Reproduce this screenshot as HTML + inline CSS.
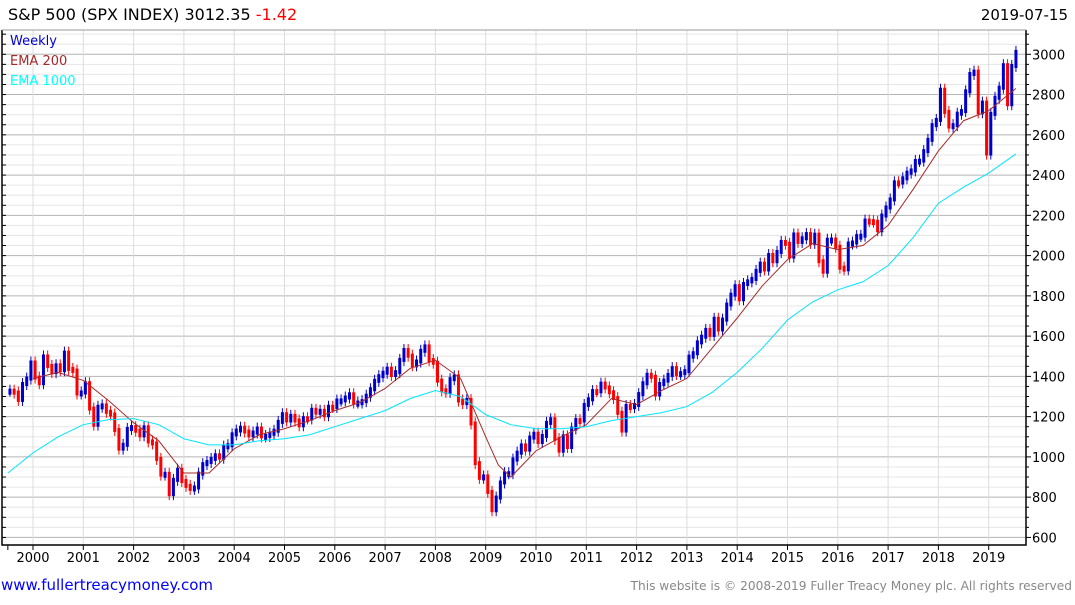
<!DOCTYPE html>
<html><head><meta charset="utf-8"><style>
body{margin:0;background:#fff;width:1075px;height:600px;overflow:hidden;font-family:"Liberation Sans","DejaVu Sans",sans-serif}
</style></head><body>
<svg id="chart" width="1075" height="600" xmlns="http://www.w3.org/2000/svg" font-family="DejaVu Sans, Liberation Sans, sans-serif">
<text x="8" y="20" font-size="16" fill="#000">S&amp;P 500 (SPX INDEX) 3012.35 <tspan fill="#ff0000">-1.42</tspan></text>
<text x="1068" y="20" font-size="15" fill="#000" text-anchor="end">2019-07-15</text>
<g id="grid"></g><g id="bars"></g><g id="lines"></g><g id="axes"></g>
<text x="10" y="45" font-size="13" fill="#0000cc">Weekly</text>
<text x="10" y="65" font-size="13" fill="#a52a2a">EMA 200</text>
<text x="10" y="85" font-size="13" fill="#00ffff">EMA 1000</text>
<text x="1" y="590" font-size="15" fill="#0000ff">www.fullertreacymoney.com</text>
<text x="1072" y="590" font-size="12.2" fill="#888" text-anchor="end">This website is © 2008-2019 Fuller Treacy Money plc. All rights reserved</text>
</svg>
<script>
const startYear = 1999.5;
const monthlyClose = [1329,1320,1283,1362,1389,1469,
1394,1366,1499,1452,1421,1455,1431,1518,1437,1429,1315,1320,
1366,1240,1160,1249,1256,1224,1211,1134,1041,1060,1139,1148,
1130,1107,1147,1077,1067,990,912,916,815,886,936,880,
856,841,848,917,964,975,990,1008,996,1051,1058,1112,
1131,1145,1126,1107,1121,1141,1102,1104,1115,1130,1174,1212,
1181,1204,1181,1157,1192,1191,1234,1220,1229,1207,1249,1248,
1280,1281,1295,1311,1270,1270,1277,1304,1336,1378,1401,1418,
1438,1407,1421,1482,1531,1503,1455,1474,1527,1549,1481,1468,
1379,1331,1323,1386,1400,1280,1267,1283,1166,969,896,903,
826,735,798,873,919,919,987,1021,1057,1036,1096,1115,
1074,1104,1169,1187,1089,1031,1102,1049,1141,1183,1181,1258,
1286,1327,1326,1364,1345,1321,1292,1219,1131,1253,1247,1258,
1312,1366,1408,1398,1310,1362,1379,1407,1441,1412,1416,1426,
1498,1515,1569,1597,1631,1606,1686,1633,1682,1757,1806,1848,
1783,1859,1872,1884,1924,1960,1931,2003,1972,2018,2068,2059,
1995,2105,2068,2086,2107,2063,2104,1972,1920,2079,2080,2044,
1940,1932,2060,2065,2097,2099,2174,2171,2168,2126,2199,2239,
2279,2364,2363,2384,2412,2423,2470,2472,2519,2575,2648,2674,
2824,2714,2641,2648,2705,2718,2816,2902,2914,2712,2760,2507,
2704,2784,2834,2946,2752,2942,3012];
const emaYears = [2000,2000.5,2001,2001.5,2002,2002.5,2003,2003.5,2004,2004.5,2005,2005.5,2006,2006.5,2007,2007.5,2008,2008.5,2009,2009.25,2009.5,2010,2010.5,2011,2011.5,2012,2012.5,2013,2013.5,2014,2014.5,2015,2015.5,2016,2016.5,2017,2017.5,2018,2018.5,2019,2019.54];
const ema200 = [1390,1420,1380,1280,1170,1080,920,920,1040,1110,1140,1180,1230,1270,1340,1440,1480,1390,1100,960,900,1030,1100,1160,1290,1260,1330,1390,1540,1690,1850,1980,2060,2030,2050,2150,2330,2520,2670,2720,2830];
const ema1000Years = [1999.5,2000,2000.5,2001,2001.5,2002,2002.5,2003,2003.5,2004,2004.5,2005,2005.5,2006,2006.5,2007,2007.5,2008,2008.5,2009,2009.5,2010,2010.5,2011,2011.5,2012,2012.5,2013,2013.5,2014,2014.5,2015,2015.5,2016,2016.5,2017,2017.5,2018,2018.5,2019,2019.54];
const ema1000 = [920,1020,1100,1160,1185,1190,1160,1090,1060,1060,1080,1090,1110,1150,1190,1230,1290,1330,1300,1210,1160,1140,1140,1150,1180,1200,1220,1250,1320,1420,1540,1680,1770,1830,1870,1950,2090,2260,2340,2410,2505];
const yTicks = [600,800,1000,1200,1400,1600,1800,2000,2200,2400,2600,2800,3000];
const xYears = [2000,2001,2002,2003,2004,2005,2006,2007,2008,2009,2010,2011,2012,2013,2014,2015,2016,2017,2018,2019];

const NS="http://www.w3.org/2000/svg";
const PL=2,PR=1026,PT=30,PB=545;
const xs=t=>33+(t-2000)*50.3;
const ys=v=>54.3+(3000-v)*0.2013;
function mk(tag,attrs,parent){const e=document.createElementNS(NS,tag);for(const k in attrs)e.setAttribute(k,attrs[k]);document.getElementById(parent).appendChild(e);return e;}
for(let v=600;v<=3100;v+=50){
  if(ys(v)<PT||ys(v)>PB)continue;
  const g=mk('line',{x1:PL,x2:PR,y1:ys(v),y2:ys(v),stroke:v%200===0?'#b4b4b4':'#e6e6e6','stroke-width':1},'grid');
  
  
}
xYears.forEach(yr=>{
  const g=mk('line',{x1:xs(yr),x2:xs(yr),y1:PT,y2:PB,stroke:'#dcdcdc','stroke-width':1},'grid');
  
  
});
for(let i=0;i<monthlyClose.length;i++){
  const c=monthlyClose[i], o=i>0?monthlyClose[i-1]:c;
  const t=startYear+i/12+1/24;
  const hi=Math.max(o,c), lo=Math.min(o,c);
  const col=c>=o?'#0000cc':'#ff0000';
  const w=mk('line',{x1:xs(t),x2:xs(t),y1:ys(hi)-6,y2:ys(lo)+6,stroke:col,'stroke-width':1},'bars');
  
  
  const b=mk('rect',{x:xs(t)-1.5,y:ys(hi)-2,width:3,height:Math.max(2,ys(lo)-ys(hi))+4,fill:col},'bars');
  
  
}
const p1=mk('polyline',{points:emaYears.map((t,i)=>xs(t)+','+ys(ema200[i])).join(' '),fill:'none',stroke:'#a52a2a','stroke-width':1},'lines');


const p2=mk('polyline',{points:ema1000Years.map((t,i)=>xs(t)+','+ys(ema1000[i])).join(' '),fill:'none',stroke:'#00e5ff','stroke-width':1},'lines');


const frame=mk('polyline',{points:`${PL},${PT} ${PL},${PB} ${PR},${PB} ${PR},${PT}`,fill:'none',stroke:'#000','stroke-width':1.5},'axes');


const topBorder=mk('line',{x1:PL,x2:PR,y1:PT,y2:PT,stroke:'#999'},'axes');


yTicks.forEach(v=>{
  mk('line',{x1:PR,x2:PR+5,y1:ys(v),y2:ys(v),stroke:'#000'},'axes');
  const t=mk('text',{x:PR+6,y:ys(v)+5,'font-size':13,fill:'#000'},'axes');
  t.textContent=v;
  
  
});
for(let v=650;v<=3100;v+=50){if(ys(v)>PT&&v%200)mk('line',{x1:PR,x2:PR+3,y1:ys(v),y2:ys(v),stroke:'#000'},'axes');}
for(let v=600;v<=3100;v+=50){if(ys(v)>PT)mk('line',{x1:PL,x2:PL+4,y1:ys(v),y2:ys(v),stroke:'#000'},'axes');}
mk('line',{x1:xs(1999.5),x2:xs(1999.5),y1:PB,y2:PB+5,stroke:'#000'},'axes');
xYears.forEach(yr=>{
  mk('line',{x1:xs(yr),x2:xs(yr),y1:PB,y2:PB+5,stroke:'#000'},'axes');
  const t=mk('text',{x:xs(yr),y:PB+17,'font-size':13,fill:'#000','text-anchor':'middle'},'axes');
  t.textContent=yr;
  
  
});
</script>
</body></html>
